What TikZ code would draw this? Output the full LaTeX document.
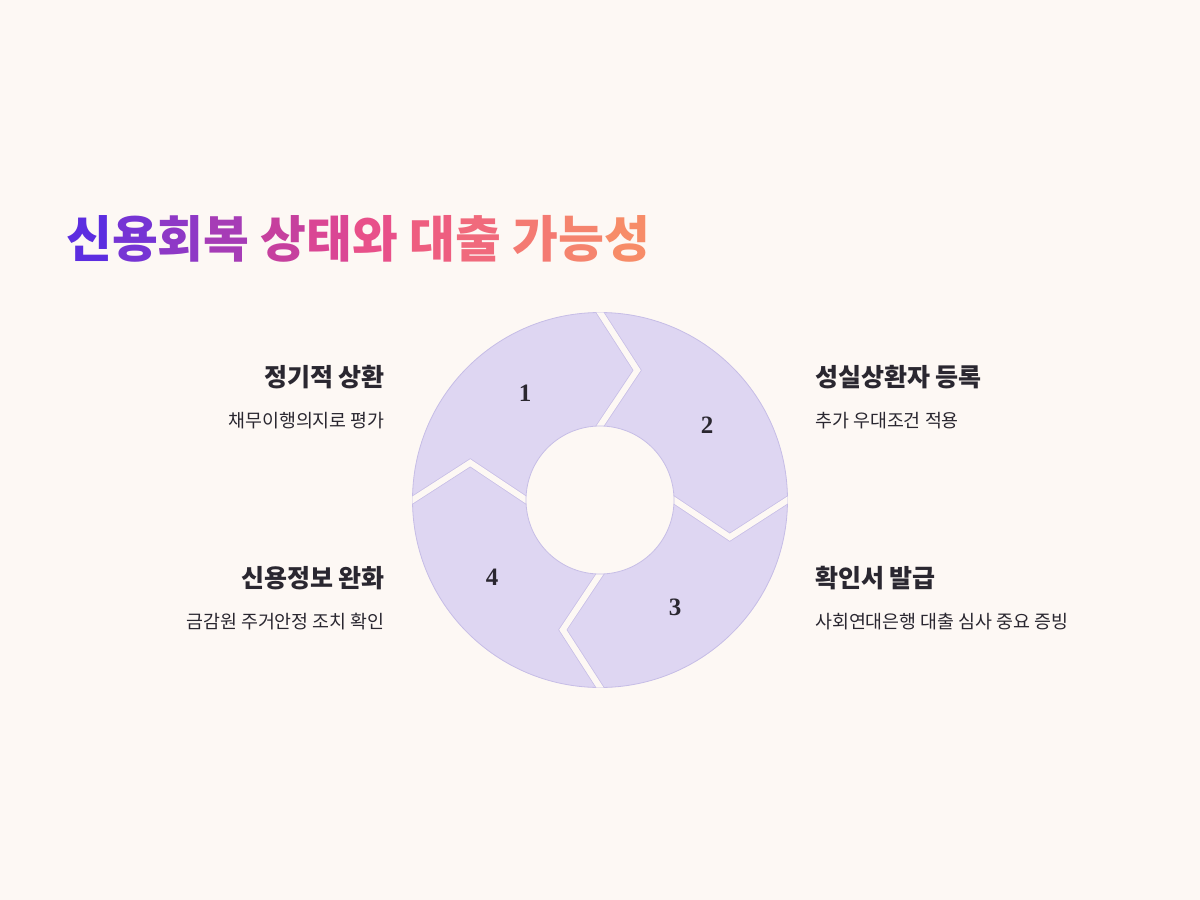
\documentclass[tikz,border=0pt]{standalone}
\usepackage{fontspec}
\newfontfamily\kr{Noto Sans CJK KR}
\newfontfamily\numfont{Liberation Serif}
\usetikzlibrary{calc}
\definecolor{bg}{HTML}{FDF8F4}
\definecolor{ringfill}{HTML}{DED6F2}
\definecolor{ringline}{HTML}{C6BDE6}
\definecolor{ink}{HTML}{2A2730}
\definecolor{t1}{HTML}{5C2DE0}
\definecolor{t2}{HTML}{7634D4}
\definecolor{t3}{HTML}{8E38C6}
\definecolor{t4}{HTML}{A63CB6}
\definecolor{t5}{HTML}{C6409E}
\definecolor{t6}{HTML}{DA4694}
\definecolor{t7}{HTML}{E8508A}
\definecolor{t8}{HTML}{EE5E80}
\definecolor{t9}{HTML}{F06A7C}
\definecolor{t10}{HTML}{F47A72}
\definecolor{t11}{HTML}{F5846E}
\definecolor{t12}{HTML}{F78C68}
\tikzset{
  heading/.style={font=\kr\bfseries\fontsize{25}{30}\selectfont, text=ink, inner sep=0pt},
  subtext/.style={font=\kr\fontsize{18.4}{22}\selectfont, text=ink, inner sep=0pt},
  numlabel/.style={font=\numfont\bfseries\fontsize{25}{28}\selectfont, text=ink, inner sep=0pt},
  cutback/.style={draw=ringline, line width=7.5pt},
  cutgap/.style={draw=bg, line width=6pt}
}
\begin{document}
\begin{tikzpicture}[x=1pt,y=1pt]
\useasboundingbox (0,-900) rectangle (1200,0);
\fill[bg] (0,-900) rectangle (1200,0);

% title
\node[anchor=west, inner sep=0pt, font=\kr\bfseries\fontsize{49.8}{58}\selectfont] (title) at (66,-239)
 {\textcolor{t1}{신}\textcolor{t2}{용}\textcolor{t3}{회}\textcolor{t4}{복} \textcolor{t5}{상}\textcolor{t6}{태}\textcolor{t7}{와} \textcolor{t8}{대}\textcolor{t9}{출} \textcolor{t10}{가}\textcolor{t11}{능}\textcolor{t12}{성}};

% ring
\coordinate (c) at (600,-500);
\def\Ro{187.5}
\def\Ri{74}
\def\Rt{135}
\fill[ringfill, even odd rule] (c) circle (\Ro) (c) circle (\Ri);
\draw[ringline, line width=0.8pt] (c) circle (\Ro);
\begin{scope}
  \clip (c) circle (\Ro+0.1);
  \foreach \a in {90,0,270,180}{
    \coordinate (o) at ($(c)+(\a:\Ro)$);
    \coordinate (t) at ($(c)+(\a-16:\Rt)$);
    \coordinate (i) at ($(c)+(\a:\Ri)$);
    \coordinate (oe) at ($(t)!1.15!(o)$);
    \coordinate (ie) at ($(t)!1.3!(i)$);
    \draw[cutback] (oe) -- (t) -- (ie);
    \draw[cutgap] (oe) -- (t) -- (ie);
  }
\end{scope}
\fill[bg] (c) circle (\Ri);
\draw[ringline, line width=0.8pt] (c) circle (\Ri);

% numbers
\node[numlabel] (n1) at (525,-393) {1};
\node[numlabel] (n2) at (707,-425) {2};
\node[numlabel] (n3) at (675,-607) {3};
\node[numlabel] (n4) at (492,-577) {4};

% labels left
\node[heading, anchor=east] (h1) at (385,-377) {정기적 상환};
\node[subtext, anchor=east] (s1) at (385,-421) {채무이행의지로 평가};
\node[heading, anchor=east] (h4) at (385,-578) {신용정보 완화};
\node[subtext, anchor=east] (s4) at (385,-622) {금감원 주거안정 조치 확인};
% labels right
\node[heading, anchor=west] (h2) at (815,-377) {성실상환자 등록};
\node[subtext, anchor=west] (s2) at (815,-421) {추가 우대조건 적용};
\node[heading, anchor=west] (h3) at (815,-578) {확인서 발급};
\node[subtext, anchor=west] (s3) at (815,-622) {사회연대은행 대출 심사 중요 증빙};
\end{tikzpicture}
\end{document}
